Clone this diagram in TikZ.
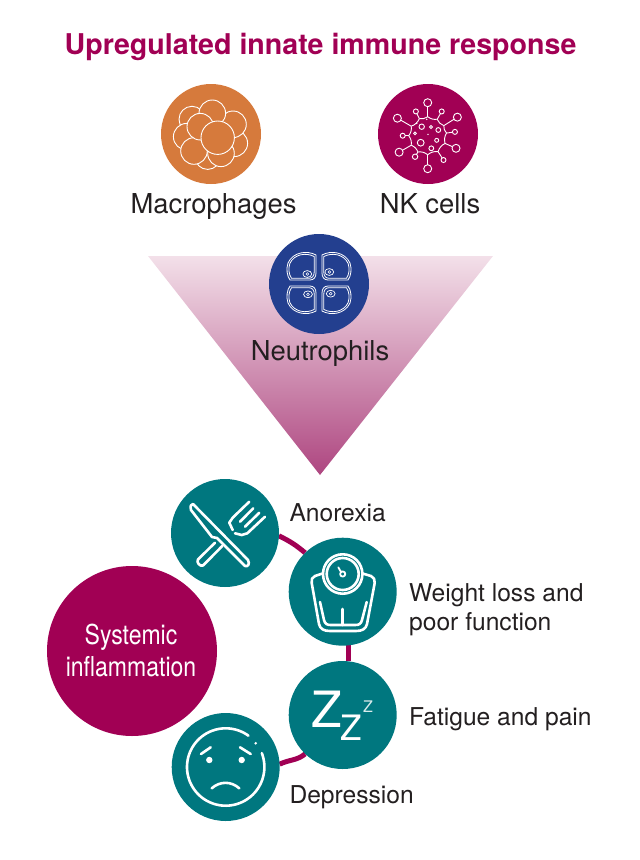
\documentclass[tikz,border=0pt]{standalone}
\usepackage{fontspec}
\setmainfont{TeX Gyre Heros}
\newfontfamily\narrowfont[FakeStretch=0.84]{TeX Gyre Heros}
\usetikzlibrary{calc}
\usetikzlibrary{backgrounds}
\definecolor{berry}{HTML}{A10054}
\definecolor{orangecell}{HTML}{D67A3C}
\definecolor{navycell}{HTML}{233F8F}
\definecolor{tealcell}{HTML}{00777F}
\definecolor{inktext}{HTML}{231F20}
\definecolor{fadetop}{HTML}{F3E0E9}
\definecolor{fadebottom}{HTML}{AE4680}
\tikzset{
    cellicon/.style={circle, draw=none, inner sep=0pt, outer sep=0pt, minimum size=100pt},
    symptom/.style={circle, draw=none, fill=tealcell, inner sep=0pt, outer sep=0pt, minimum size=108pt},
    label/.style={anchor=base west, inner sep=0pt, text=inktext, font=\fontsize{24.6}{29}\selectfont},
    celllabel/.style={anchor=base, inner sep=0pt, text=inktext, font=\fontsize{27.4}{32}\selectfont},
    thinline/.style={draw=white, line width=0.9pt},
    iconline/.style={draw=white, line width=2.6pt, line cap=round, line join=round},
    link/.style={berry, line width=5pt}
}
\begin{document}
\begin{tikzpicture}[x=1pt, y=-1pt]
    \useasboundingbox (0,0) rectangle (640,860);
    \node [anchor=base, inner sep=0pt, text=berry, font=\fontsize{28.6}{33}\selectfont\bfseries] (title) at (320.5,54) {Upregulated innate immune response};

    % macrophages
    \node [cellicon, fill=orangecell] (macrophages) at (211,134) {};
    \node [celllabel] (macrophageslabel) at (213.5,213) {Macrophages};
    \foreach \x/\y/\r in {207.7/156.7/12.7, 192/119.3/13, 234.3/143.3/13.3, 233/124.3/13.3, 212.3/113.3/13.3, 186.7/136.7/13.3, 194/151/13.3, 221/153.3/13.3, 200.3/126.7/13.3, 217.7/137.7/16.7}
        \draw [fill=orangecell, thinline] (\x,\y) circle (\r);

    % NK cells
    \node [cellicon, fill=berry] (nkcells) at (428,134) {};
    \node [celllabel] (nkcellslabel) at (430,213) {NK cells};
    \foreach \a/\l/\r in {90/33/4, 116/27/2.5, 150/35/4, 180/25/2.5, 210/33/4, 239/24.5/2.7, 270/33/4, 303/29/2.5, 336/31/4, 8/27.5/2.5, 32/35/4, 60/28/2.5}{
        \draw [thinline] ({427.7+(\l)*cos(\a)}, {135.7-(\l)*sin(\a)}) circle (\r);
        \draw [thinline] ({427.7+19*cos(\a)}, {135.7-19*sin(\a)}) -- ({427.7+(\l-\r)*cos(\a)}, {135.7-(\l-\r)*sin(\a)});
    }
    \foreach \a/\b in {90/116, 116/150, 150/180, 180/210, 210/239, 239/270, 270/303, 303/336, 336/368, 8/32, 32/60, 60/90}
        \draw [thinline] ({427.7+19*cos(\a)}, {135.7-19*sin(\a)}) to [bend left=22] ({427.7+19*cos(\b)}, {135.7-19*sin(\b)});
    \foreach \x/\y/\r in {421.7/126.7/2.7, 438.3/130/2.4, 431/127/1.4, 415/133.3/1.4, 420.7/142.7/3.4, 436.7/140.3/2, 431.3/148.3/2.4}
        \draw [thinline] (\x,\y) circle (\r);
    \foreach \x/\y in {426.7/119.3, 416.7/123.3, 428/134.3}
        \fill [white] (\x,\y) circle (0.8);

    % neutrophils
    \shade [top color=fadetop, bottom color=fadebottom, draw=none] (148,256) -- (493,256) -- (320,475) -- cycle;
    \node [cellicon, fill=navycell] (neutrophils) at (319,284) {};
    \node [celllabel] (neutrophilslabel) at (320,360) {Neutrophils};
    \foreach \sx/\sy in {1/1, -1/1, 1/-1, -1/-1}{
        \begin{scope}[shift={(319,283)}, xscale=\sx, yscale=\sy]
            \draw [thinline, line width=0.8pt] (-3,-28) .. controls (-12,-33) and (-26,-31) .. (-31,-20) .. controls (-33,-14) and (-32,-7) .. (-29,-3) -- (-9,-3) .. controls (-5,-3) and (-3,-6) .. (-3,-10) -- cycle;
            \draw [thinline, line width=0.8pt, scale around={0.87:(-17,-16)}] (-3,-28) .. controls (-12,-33) and (-26,-31) .. (-31,-20) .. controls (-33,-14) and (-32,-7) .. (-29,-3) -- (-9,-3) .. controls (-5,-3) and (-3,-6) .. (-3,-10) -- cycle;
        \end{scope}
    }
    \foreach \x/\y in {307.3/274, 329.3/272, 308/294.3, 330.7/293.7}{
        \draw [thinline, line width=0.7pt] (\x,\y) ellipse (4.4 and 3.4);
        \draw [thinline, line width=0.5pt] (\x,\y) circle (1.4);
    }

    % symptoms
    \node [symptom] (anorexia) at (225,533) {};
    \node [symptom] (weightloss) at (342.7,591.7) {};
    \node [symptom] (fatigue) at (342.7,715) {};
    \node [symptom] (depression) at (225.7,767) {};
    \node [circle, draw=none, fill=berry, inner sep=0pt, outer sep=0pt, minimum size=170pt] (systemic) at (132,651) {};
    \node [align=center, inner sep=0pt, text=white, font=\narrowfont\fontsize{27.4}{32}\selectfont] (systemiclabel) at (131,650.5) {Systemic\\inflammation};
    \node [label] (anorexialabel) at (289.3,521) {Anorexia};
    \node [label] (weightlabel) at (409,601) {Weight loss and};
    \node [label] (functionlabel) at (409,630) {poor function};
    \node [label] (fatiguelabel) at (409,725) {Fatigue and pain};
    \node [label] (depressionlabel) at (289.3,803) {Depression};

    \begin{scope}[on background layer]
        \draw [link] (anorexia.-3) to [out=-26, in=140] (weightloss.134);
        \draw [link] (weightloss.-84) -- (fatigue.84);
        \draw [link] (fatigue.226) to [out=220, in=26] (depression.3);
    \end{scope}

    % knife and fork
    \draw [iconline] (193,504) -- (248,560) .. controls (250,564) and (248,567) .. (245,566) -- (217,538) -- (212,537) -- (191,510) .. controls (190,506) and (191,504) .. (193,504);
    \draw [iconline] (215,542.7) -- (198,559.5) .. controls (196,562) and (200,567) .. (203,565.5) -- (222.3,546);
    \draw [iconline] (249.3,501.7) -- (232.7,517.7) -- (229.3,522.7) -- (232.7,530);
    \draw [iconline] (265,516.7) -- (247.3,533.3) -- (241.7,535) -- (235,533.3);
    \draw [iconline] (253.3,508.3) -- (240,521.7);
    \draw [iconline] (259.3,512.7) -- (245,526.7);

    % scales
    \draw [iconline] (342.7,574) circle (19.7);
    \draw [iconline] (342.7,574) circle (16);
    \draw [iconline, line width=1.8pt] (342.7,574) circle (2.6) (341,572) -- (338.3,567.3);
    \draw [iconline] (323,573.3) -- (315,576) .. controls (312,577) and (311,580) .. (311.7,583) -- (319,624) .. controls (320,629) and (324,631) .. (330,631) -- (356,631) .. controls (362,631) and (366,629) .. (367,624) -- (374.7,583) .. controls (375,580) and (374,577) .. (371,576) -- (362,573.3);
    \draw [iconline] (320,602) -- (324,620) .. controls (325,624) and (327,625) .. (331,625) -- (355,625) .. controls (359,625) and (361,624) .. (362,620) -- (366.7,602);
    \draw [iconline] (342.7,609) -- (342.7,625);

    % sleep
    \node [inner sep=0pt, text=white, font=\fontsize{50}{50}\selectfont] (bigz) at (326.7,709.5) {Z};
    \node [inner sep=0pt, text=white, font=\fontsize{35}{35}\selectfont] (midz) at (351.3,727.8) {Z};
    \node [inner sep=0pt, text=white!85!tealcell, font=\fontsize{16}{16}\selectfont] (smallz) at (368,706.5) {Z};

    % sad face
    \draw [iconline, domain=54:381, samples=90] plot ({225.7+38.7*cos(\x)}, {767-38.7*sin(\x)});
    \fill [white] (255.7,743.3) circle (1.4);
    \fill [white] (209.3,760) circle (3.2);
    \fill [white] (241.7,760) circle (3.2);
    \draw [iconline] (201,754) -- (210.7,747.3);
    \draw [iconline] (240,747.3) -- (250.7,754);
    \draw [iconline] (211.7,788.3) .. controls (220,781) and (231,781) .. (239.3,788.3);
\end{tikzpicture}
\end{document}
